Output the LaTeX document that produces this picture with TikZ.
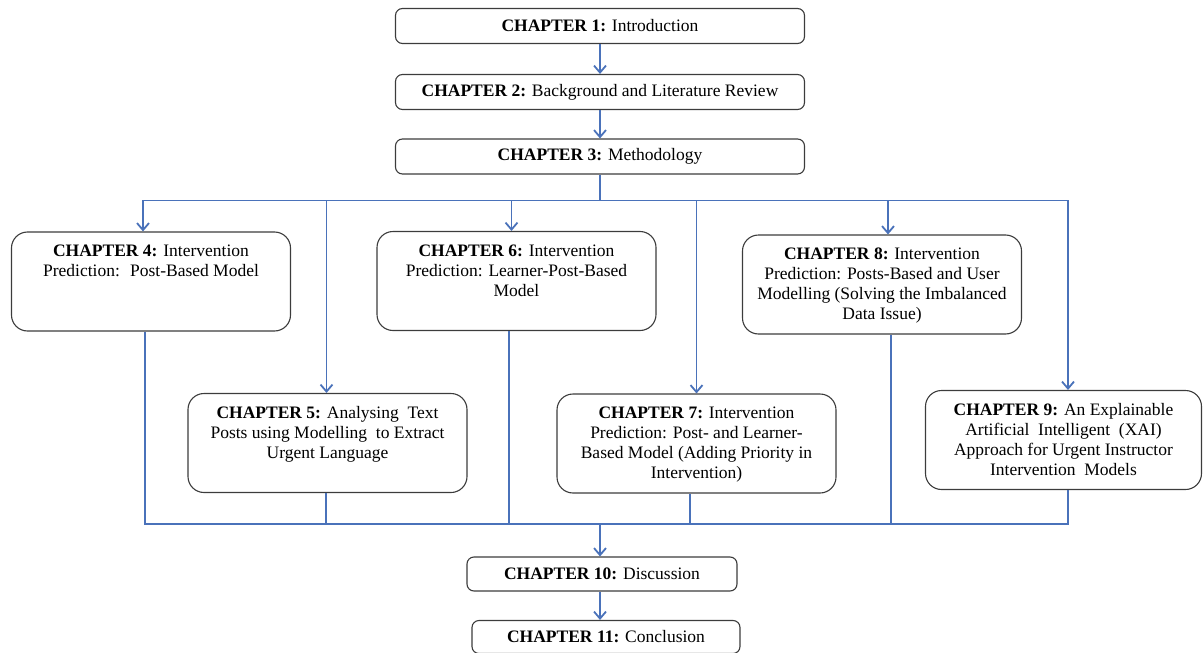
\documentclass[tikz,border=0pt]{standalone}
\usepackage{fontspec}
\IfFontExistsTF{LiberationSerif-Regular.ttf}
  {\setmainfont{LiberationSerif-Regular.ttf}[BoldFont=LiberationSerif-Bold.ttf]}
  {\setmainfont{Liberation Serif}}
\usetikzlibrary{arrows.meta}
\definecolor{linkblue}{RGB}{74,114,186}
\definecolor{boxline}{RGB}{60,60,60}
\newcommand{\chap}[1]{\textbf{CHAPTER #1:}}
\newcommand{\toptext}[1]{\parbox[c][73pt][t]{262pt}{\centering #1}}

\begin{document}
\begin{tikzpicture}[x=1pt,y=-1pt]
\tikzstyle{every node}=[font=\fontsize{17.5}{20}\selectfont]
\tikzstyle{smallbox}=[draw=boxline,line width=1.1pt,rounded corners=7pt,minimum height=35pt,inner sep=0pt]
\tikzstyle{bigbox}=[draw=boxline,line width=1.1pt,rounded corners=16pt,minimum width=279pt,minimum height=99pt,inner xsep=0pt,inner ysep=13pt]
\tikzstyle{link}=[draw=linkblue,line width=1.8pt]
\tikzstyle{arrow}=[link,-{Straight Barb[length=7pt,width=12pt]}]
\useasboundingbox (0,0) rectangle (1203,653);
% top chain
\node[smallbox,minimum width=409pt] (c1) at (600,26) {\chap{1} Introduction};
\node[smallbox,minimum width=409pt] (c2) at (600,92) {\chap{2} Background and Literature Review};
\node[smallbox,minimum width=409pt] (c3) at (600,156.5) {\chap{3} Methodology};
% contribution chapters
\node[bigbox] (c4) at (151,281.5) {\toptext{\chap{4} Intervention\\Prediction:~ Post-Based Model}};
\node[bigbox] (c6) at (516.5,281) {\toptext{\chap{6} Intervention\\Prediction: Learner-Post-Based\\Model}};
\node[bigbox] (c8) at (882,284.5) {\toptext{\chap{8} Intervention\\Prediction: Posts-Based and User\\Modelling (Solving the Imbalanced\\Data Issue)}};
\node[bigbox] (c5) at (327.5,443) {\toptext{\chap{5} Analysing~ Text\\Posts using Modelling~ to Extract\\Urgent Language}};
\node[bigbox] (c7) at (696.5,443.5) {\toptext{\chap{7} Intervention\\Prediction: Post- and Learner-\\Based Model (Adding Priority in\\Intervention)}};
\node[bigbox,minimum width=276pt] (c9) at (1063.5,440) {\toptext{\chap{9} An Explainable\\Artificial~ Intelligent~ (XAI)\\Approach for Urgent Instructor\\Intervention~ Models}};
% closing chapters
\node[smallbox,minimum width=270pt,minimum height=34pt] (c10) at (602,574) {\chap{10} Discussion};
\node[smallbox,minimum width=268pt,minimum height=33pt] (c11) at (606,637) {\chap{11} Conclusion};
\path (c3.south) ++(0,26) coordinate (split);
\coordinate (join) at (600,524);
\foreach \from/\to in {c1/c2,c2/c3}
\draw[arrow] (\from) -- (\to);
\draw[arrow] (c10.south) ++(-2,0) coordinate (c10out) -- (c10out |- c11.north);
\draw[link] (c3) -- (split);
\foreach \to/\shift in {c4/-8,c5/-1,c6/-5,c7/0,c8/6,c9/4.5}
\draw[arrow] (split) -| ([xshift=\shift pt]\to.north);
\draw[link] ([xshift=-6pt]c4.south) |- (join) -| ([xshift=4.5pt]c9.south);
\foreach \from/\shift in {c5/-1.5,c6/-7.5,c7/-6.5,c8/9}
\draw[link] ([xshift=\shift pt]\from.south) -- ([xshift=\shift pt]\from.south |- join);
\draw[arrow] (join) -- (join |- c10.north);
\end{tikzpicture}
\end{document}
